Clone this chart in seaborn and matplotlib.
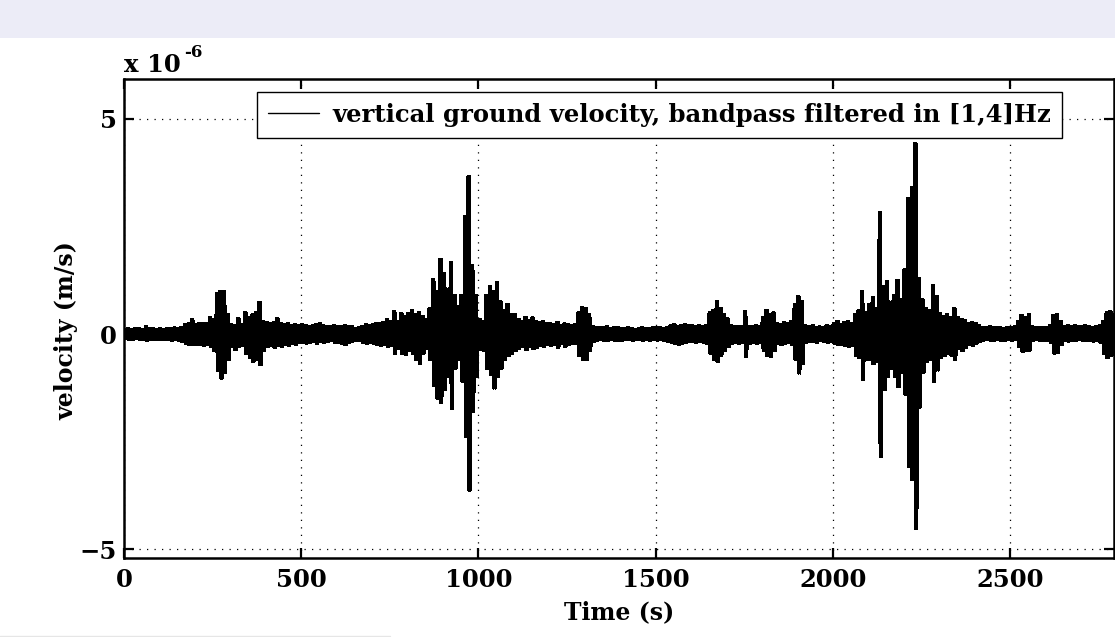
import numpy as np
import pandas as pd
import matplotlib
matplotlib.use("Agg")
import matplotlib.pyplot as plt
from matplotlib.patches import Rectangle
from matplotlib.lines import Line2D
import seaborn as sns

# ---------------- data (velocity in 1e-6 m/s, 10 s bins) ----------------
time_s = np.arange(0, 2800, 10)
upper_env = [
    0.12, 0.13, 0.12, 0.14, 0.13, 0.12, 0.18, 0.14, 0.13, 0.12,
    0.13, 0.12, 0.14, 0.13, 0.15, 0.14, 0.16, 0.22, 0.25, 0.34,
    0.22, 0.24, 0.26, 0.24, 0.39, 0.35, 0.95, 1.00, 0.98, 0.45,
    0.22, 0.20, 0.36, 0.22, 0.50, 0.38, 0.45, 0.50, 0.74, 0.30,
    0.28, 0.25, 0.27, 0.36, 0.25, 0.22, 0.26, 0.20, 0.22, 0.20,
    0.22, 0.20, 0.18, 0.20, 0.22, 0.25, 0.20, 0.18, 0.17, 0.20,
    0.18, 0.17, 0.20, 0.19, 0.18, 0.14, 0.15, 0.18, 0.22, 0.20,
    0.22, 0.25, 0.24, 0.28, 0.35, 0.30, 0.52, 0.30, 0.48, 0.42,
    0.48, 0.55, 0.45, 0.50, 0.42, 0.35, 0.60, 1.27, 1.00, 1.74,
    1.40, 1.05, 1.66, 0.90, 0.65, 0.90, 2.73, 3.66, 1.60, 0.90,
    0.35, 0.30, 0.90, 1.10, 1.00, 1.19, 0.75, 0.55, 0.70, 0.45,
    0.45, 0.35, 0.30, 0.40, 0.32, 0.38, 0.30, 0.28, 0.30, 0.25,
    0.25, 0.22, 0.28, 0.20, 0.24, 0.22, 0.20, 0.22, 0.50, 0.62,
    0.60, 0.45, 0.17, 0.15, 0.16, 0.15, 0.17, 0.14, 0.15, 0.16,
    0.14, 0.13, 0.15, 0.13, 0.12, 0.14, 0.15, 0.13, 0.14, 0.15,
    0.15, 0.16, 0.14, 0.15, 0.20, 0.22, 0.18, 0.20, 0.22, 0.20,
    0.20, 0.18, 0.20, 0.17, 0.20, 0.50, 0.55, 0.75, 0.60, 0.45,
    0.36, 0.20, 0.17, 0.18, 0.17, 0.52, 0.18, 0.17, 0.20, 0.18,
    0.40, 0.56, 0.45, 0.50, 0.25, 0.22, 0.28, 0.25, 0.30, 0.70,
    0.87, 0.75, 0.20, 0.18, 0.20, 0.15, 0.17, 0.15, 0.20, 0.18,
    0.25, 0.30, 0.22, 0.28, 0.30, 0.25, 0.45, 0.55, 1.00, 0.50,
    0.70, 0.85, 0.60, 2.83, 1.10, 1.22, 0.75, 0.90, 1.25, 0.80,
    1.50, 3.16, 3.40, 4.43, 1.30, 0.80, 0.60, 0.55, 1.14, 0.87,
    0.48, 0.42, 0.45, 0.40, 0.60, 0.40, 0.35, 0.32, 0.25, 0.28,
    0.25, 0.20, 0.16, 0.15, 0.17, 0.15, 0.16, 0.15, 0.14, 0.16,
    0.15, 0.17, 0.30, 0.44, 0.40, 0.45, 0.17, 0.15, 0.16, 0.15,
    0.16, 0.20, 0.44, 0.45, 0.30, 0.18, 0.20, 0.17, 0.20, 0.18,
    0.17, 0.20, 0.18, 0.15, 0.17, 0.20, 0.30, 0.50, 0.52, 0.45,
]
lower_env = [
    -0.12, -0.13, -0.14, -0.12, -0.13, -0.14, -0.16, -0.13, -0.14, -0.13,
    -0.13, -0.14, -0.13, -0.15, -0.14, -0.15, -0.18, -0.22, -0.25, -0.24,
    -0.24, -0.25, -0.27, -0.26, -0.30, -0.40, -0.84, -1.03, -0.90, -0.60,
    -0.30, -0.37, -0.30, -0.28, -0.45, -0.55, -0.64, -0.60, -0.72, -0.40,
    -0.30, -0.27, -0.32, -0.28, -0.30, -0.25, -0.27, -0.22, -0.24, -0.20,
    -0.20, -0.22, -0.20, -0.18, -0.22, -0.18, -0.20, -0.17, -0.16, -0.20,
    -0.20, -0.22, -0.25, -0.20, -0.17, -0.15, -0.16, -0.20, -0.22, -0.20,
    -0.22, -0.25, -0.28, -0.25, -0.30, -0.28, -0.45, -0.35, -0.45, -0.48,
    -0.40, -0.45, -0.60, -0.68, -0.45, -0.35, -0.60, -1.20, -1.50, -1.60,
    -1.30, -1.00, -1.73, -0.80, -0.60, -1.10, -2.39, -3.63, -1.80, -1.00,
    -0.37, -0.40, -0.80, -0.95, -1.26, -1.00, -0.80, -0.60, -0.50, -0.45,
    -0.40, -0.35, -0.30, -0.37, -0.30, -0.35, -0.32, -0.28, -0.30, -0.25,
    -0.28, -0.25, -0.33, -0.22, -0.30, -0.25, -0.23, -0.22, -0.50, -0.60,
    -0.60, -0.40, -0.18, -0.15, -0.14, -0.16, -0.15, -0.14, -0.16, -0.15,
    -0.15, -0.14, -0.13, -0.15, -0.14, -0.13, -0.15, -0.14, -0.15, -0.14,
    -0.15, -0.14, -0.16, -0.18, -0.20, -0.22, -0.25, -0.22, -0.20, -0.18,
    -0.18, -0.20, -0.17, -0.20, -0.22, -0.45, -0.60, -0.64, -0.50, -0.40,
    -0.30, -0.22, -0.20, -0.22, -0.20, -0.53, -0.22, -0.20, -0.22, -0.20,
    -0.40, -0.50, -0.53, -0.40, -0.22, -0.25, -0.22, -0.20, -0.25, -0.60,
    -0.91, -0.70, -0.20, -0.18, -0.17, -0.20, -0.15, -0.18, -0.20, -0.17,
    -0.22, -0.25, -0.25, -0.27, -0.30, -0.28, -0.50, -0.55, -1.07, -0.60,
    -0.60, -0.70, -0.65, -2.85, -1.30, -1.00, -0.80, -1.00, -1.22, -0.90,
    -1.40, -3.09, -3.39, -4.52, -1.70, -0.90, -0.65, -0.60, -1.10, -0.84,
    -0.55, -0.50, -0.45, -0.50, -0.60, -0.35, -0.40, -0.33, -0.25, -0.28,
    -0.22, -0.18, -0.15, -0.14, -0.15, -0.16, -0.14, -0.15, -0.16, -0.14,
    -0.15, -0.14, -0.30, -0.41, -0.40, -0.38, -0.15, -0.14, -0.15, -0.16,
    -0.15, -0.20, -0.45, -0.44, -0.25, -0.15, -0.17, -0.15, -0.16, -0.14,
    -0.15, -0.16, -0.15, -0.17, -0.15, -0.20, -0.45, -0.56, -0.50, -0.48,
]
x_ticks = [0, 500, 1000, 1500, 2000, 2500]
y_ticks = [-5, 0, 5]
y_tick_labels = ["\u22125", "0", "5"]
legend_label = "vertical ground velocity, bandpass filtered in [1,4]Hz"

# the trace oscillates between the envelope extremes several times inside each bin
t_trace = np.column_stack([time_s, time_s + 2.5, time_s + 5, time_s + 7.5]).ravel()
v_trace = np.column_stack([upper_env, lower_env, upper_env, lower_env]).ravel()
df = pd.DataFrame({"Time (s)": t_trace, "velocity": v_trace})

# ---------------- style ----------------
sns.set_theme(style="white")
plt.rcParams["font.family"] = ["DejaVu Serif"]
plt.rcParams["font.weight"] = "bold"
plt.rcParams["mathtext.fontset"] = "dejavuserif"
for k in ["text.color", "axes.labelcolor", "xtick.color", "ytick.color", "axes.edgecolor"]:
    plt.rcParams[k] = "black"
FS_TICK = 17.5
FS_LAB = 17
FS_LEG = 17.5

fig = plt.figure(figsize=(11.15, 6.37), dpi=100)
fig.patch.set_facecolor("white")
fig.patches.append(Rectangle((0, 1 - 38 / 637), 1, 38 / 637, transform=fig.transFigure,
                             facecolor="#ececf7", edgecolor="none", zorder=0))
fig.lines.append(Line2D([0, 0.35], [1.2 / 637, 1.2 / 637], transform=fig.transFigure,
                        color="#e6e6e6", lw=1))

ax = fig.add_axes([124 / 1115, 1 - 558 / 637, 990 / 1115, 479 / 637])
ax.set_facecolor("white")

sns.lineplot(data=df, x="Time (s)", y="velocity", sort=False, estimator=None,
             color="black", lw=1.2, antialiased=False, ax=ax, label=legend_label)

ax.set_xlim(0, 2793)
ax.set_ylim(-5.2, 5.92)
ax.set_xticks(x_ticks)
ax.set_yticks(y_ticks)
ax.set_xticklabels([str(v) for v in x_ticks], fontsize=FS_TICK, fontweight="bold")
ax.set_yticklabels(y_tick_labels, fontsize=FS_TICK, fontweight="bold")

ax.grid(True, color="black", linestyle=(0, (1, 5)), lw=0.9)
ax.set_axisbelow(True)
for s in ax.spines.values():
    s.set_visible(True)
    s.set_color("black")
    s.set_linewidth(1.8)
ax.tick_params(direction="in", length=7, width=1.6, top=True, right=True,
               bottom=True, left=True, colors="black")
ax.tick_params(axis="x", pad=7)
ax.tick_params(axis="y", pad=5)

ax.set_xlabel("Time (s)", fontsize=FS_LAB, fontweight="bold", labelpad=6)
ax.set_ylabel("")
fig.text(66 / 1115, 1 - 331 / 637, "velocity (m/s)", rotation=90, ha="center",
         va="center", fontsize=FS_LAB, fontweight="bold")
fig.text(124 / 1115, 1 - 72 / 637, "x 10", ha="left", va="baseline",
         fontsize=FS_TICK, fontweight="bold")
fig.text(184 / 1115, 1 - 57 / 637, "-6", ha="left", va="baseline",
         fontsize=12, fontweight="bold")

leg = ax.legend(loc="upper right", bbox_to_anchor=((1062 - 124) / 990, (558 - 92) / 479),
                borderaxespad=0, frameon=True, fancybox=False, framealpha=1,
                edgecolor="black", handlelength=2.1, handletextpad=0.55,
                borderpad=0.45,
                prop={"size": FS_LEG, "weight": "bold", "family": "DejaVu Serif"})
leg.get_frame().set_linewidth(1.0)
for h in leg.get_lines():
    h.set_linewidth(1.0)
    h.set_antialiased(True)

fig.savefig("out.png", dpi=100)
